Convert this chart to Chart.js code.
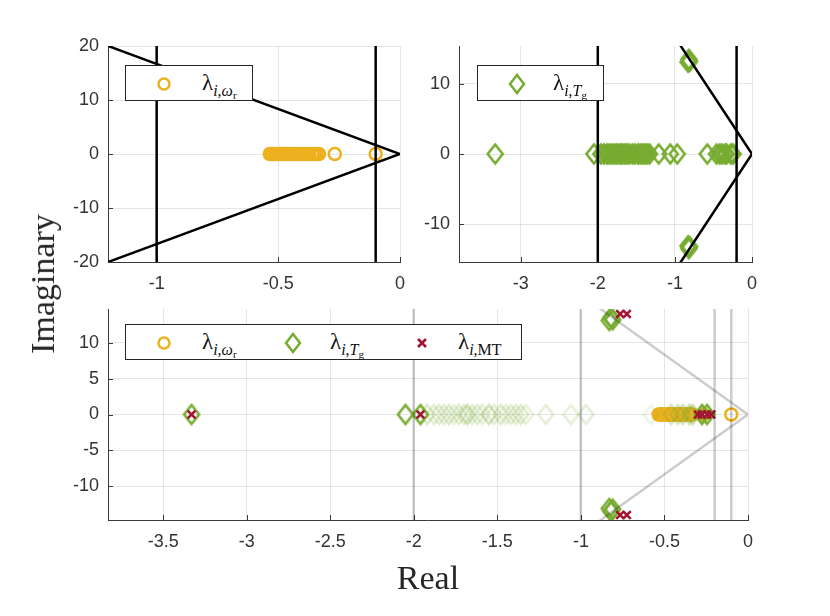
<!DOCTYPE html>
<html>
<head>
<meta charset="utf-8">
<script src="https://cdn.jsdelivr.net/npm/chart.js@4.4.1/dist/chart.umd.min.js"></script>
<style>
  html, body { margin: 0; padding: 0; background: #fff; }
  #fig { position: relative; width: 830px; height: 616px; overflow: hidden; background: #fff; }
  #fig canvas { position: absolute; }
  .lbl { position: absolute; font-family: "Liberation Serif", "DejaVu Serif", serif; color: #262626; font-size: 34px; white-space: nowrap; line-height: 1; }
  .legend { position: absolute; background: #fff; border: 1px solid #262626; box-sizing: border-box; height: 36px; }
  .legend svg { position: absolute; top: 10px; }
  .legend .t { position: absolute; top: 4px; font-family: "Liberation Serif", "DejaVu Serif", serif; font-size: 23px; color: #111; white-space: nowrap; }
  .legend sub { font-size: 16px; vertical-align: -6px; }
  .legend sub sub { font-size: 11px; vertical-align: -3px; }
</style>
</head>
<body>
<div id="fig">
  <canvas id="topLeft" width="420" height="300" style="left:0;top:0"></canvas>
  <canvas id="topRight" width="410" height="300" style="left:420px;top:0"></canvas>
  <canvas id="bottom" width="830" height="316" style="left:0;top:300px"></canvas>

  <div class="lbl" id="ylab" style="left:43px;top:284px;transform:translate(-50%,-50%) rotate(-90deg);">Imaginary</div>
  <div class="lbl" id="xlab" style="left:428px;top:578px;transform:translate(-50%,-50%);">Real</div>

  <div class="legend" style="left:125px;top:65px;width:128px;">
    <svg width="16" height="16" style="left:30px"><circle cx="8" cy="8" r="5.5" fill="none" stroke="#EDB120" stroke-width="2.5"/></svg>
    <span class="t" style="left:76px">λ<sub><i>i</i>,<i>ω</i><sub>r</sub></sub></span>
  </div>
  <div class="legend" style="left:477px;top:65px;width:127px;">
    <svg width="18" height="22" style="left:30px;top:7px"><polygon points="9,2 16,11 9,20 2,11" fill="none" stroke="#77AC30" stroke-width="2.5"/></svg>
    <span class="t" style="left:75px">λ<sub><i>i</i>,<i>T</i><sub>g</sub></sub></span>
  </div>
  <div class="legend" style="left:125px;top:324px;width:397px;">
    <svg width="16" height="16" style="left:30px"><circle cx="8" cy="8" r="5.5" fill="none" stroke="#EDB120" stroke-width="2.5"/></svg>
    <span class="t" style="left:76px">λ<sub><i>i</i>,<i>ω</i><sub>r</sub></sub></span>
    <svg width="18" height="22" style="left:158px;top:7px"><polygon points="9,2 16,11 9,20 2,11" fill="none" stroke="#77AC30" stroke-width="2.5"/></svg>
    <span class="t" style="left:204px">λ<sub><i>i</i>,<i>T</i><sub>g</sub></sub></span>
    <svg width="16" height="16" style="left:288px"><path d="M4,4 L12,12 M12,4 L4,12" stroke="#A2142F" stroke-width="2.6"/></svg>
    <span class="t" style="left:332px">λ<sub><i>i</i>,MT</sub></span>
  </div>
</div>

<script>
// eigenvalues tied to the rotor speed state
const owReal = [-0.535, -0.527, -0.521, -0.512, -0.506, -0.497, -0.489, -0.483, -0.474, -0.466, -0.459, -0.45, -0.441, -0.433, -0.426, -0.417, -0.407, -0.399, -0.391, -0.38, -0.372, -0.36, -0.351, -0.342, -0.333, -0.268, -0.1];
const owImag = [0, 0, 0, 0, 0, 0, 0, 0, 0, 0, 0, 0, 0, 0, 0, 0, 0, 0, 0, 0, 0, 0, 0, 0, 0, 0, 0];

// eigenvalues tied to the generator torque state
const tgReal = [-3.33, -2.05, -1.96, -1.92, -1.88, -1.85, -1.82, -1.79, -1.76, -1.73, -1.70, -1.68, -1.65, -1.62, -1.59, -1.55, -1.52, -1.48, -1.45, -1.42, -1.39, -1.36, -1.33, -1.21, -1.06, -0.97, -0.58, -0.46, -0.42, -0.39, -0.35, -0.33, -0.275, -0.245, -0.83, -0.81, -0.82, -0.83, -0.81, -0.82];
const tgImag = [0, 0, 0, 0, 0, 0, 0, 0, 0, 0, 0, 0, 0, 0, 0, 0, 0, 0, 0, 0, 0, 0, 0, 0, 0, 0, 0, 0, 0, 0, 0, 0, 0, 0, 13.1, 13.2, 13.5, -13.1, -13.2, -13.5];
// participation shown as opacity in the combined plot
const tgWeight = [1, 1, 1, 0.25, 0.2, 0.22, 0.2, 0.25, 0.18, 0.22, 0.2, 0.35, 0.2, 0.22, 0.18, 0.35, 0.2, 0.25, 0.18, 0.22, 0.2, 0.24, 0.18, 0.2, 0.18, 0.2, 0.12, 0.3, 0.3, 0.35, 0.4, 0.35, 1, 1, 1, 1, 1, 1, 1, 1];

// eigenvalues of the multi-turbine model
const mtReal = [-3.33, -1.96, -0.765, -0.725, -0.765, -0.725, -0.30, -0.275, -0.245, -0.22];
const mtImag = [0, 0, 14.0, 14.0, -14.0, -14.0, 0, 0, 0, 0];

// stability region bounds
const dampSlope = 16.67;            // |imag| / |real| along the damping limit
const topLeftLimits = [-1, -0.1];
const topRightLimits = [-2, -0.2];
const bottomLimits = [-2, -1, -0.2, -0.1];

// tick labels
const topLeftX = [-1, -0.5, 0];
const topLeftY = [-20, -10, 0, 10, 20];
const topRightX = [-3, -2, -1, 0];
const topRightY = [-10, 0, 10];
const bottomX = [-3.5, -3, -2.5, -2, -1.5, -1, -0.5, 0];
const bottomY = [-10, -5, 0, 5, 10];

const ORANGE = '#EDB120';
const GREEN = '#77AC30';
const RED = '#A2142F';
const GRID = 'rgba(38,38,38,0.12)';
const AXIS = '#3a3a3a';

const pts = (xs, ys) => xs.map((x, i) => ({ x: x, y: ys[i] }));

function diamond(color) {
  const c = document.createElement('canvas');
  c.width = 20; c.height = 24;
  const g = c.getContext('2d');
  g.strokeStyle = color;
  g.lineWidth = 2.6;
  g.beginPath();
  g.moveTo(10, 2.5); g.lineTo(17.5, 12); g.lineTo(10, 21.5); g.lineTo(2.5, 12);
  g.closePath();
  g.stroke();
  return c;
}

function limitLines(limits, color) {
  const sets = limits.map(v => ({
    type: 'line', data: [{ x: v, y: -100 }, { x: v, y: 100 }],
    borderColor: color, borderWidth: 2.5, pointRadius: 0, clip: 0, order: 0
  }));
  sets.push({
    type: 'line', data: [{ x: -6, y: 6 * dampSlope }, { x: 0, y: 0 }, { x: -6, y: -6 * dampSlope }],
    borderColor: color, borderWidth: 2.5, pointRadius: 0, clip: 0, order: 0
  });
  return sets;
}

function circles() {
  return {
    data: pts(owReal, owImag), pointStyle: 'circle', pointRadius: 6,
    borderColor: ORANGE, borderWidth: 2.5, backgroundColor: 'rgba(0,0,0,0)', clip: 0, order: 3
  };
}

function diamonds(weighted) {
  return {
    data: pts(tgReal, tgImag), pointRadius: 8, clip: 0, order: 2,
    pointStyle: tgWeight.map(w => diamond(weighted ? 'rgba(119,172,48,' + w + ')' : GREEN))
  };
}

function crosses() {
  return {
    data: pts(mtReal, mtImag), pointStyle: 'crossRot', pointRadius: 5.5,
    borderColor: RED, borderWidth: 2.6, clip: 0, order: 1
  };
}

function axis(min, max, vals, size, isX) {
  return {
    type: 'linear', min: min, max: max,
    afterBuildTicks: s => { s.ticks = vals.map(v => ({ value: v })); },
    afterFit: s => {
      if (isX) s.height = size; else s.width = size;
      s.paddingTop = 0; s.paddingBottom = 0; s.paddingLeft = 0; s.paddingRight = 0;
    },
    grid: { color: GRID, lineWidth: 1, drawTicks: false },
    border: { display: true, color: AXIS, width: 1 },
    ticks: {
      color: '#333', font: { family: 'Liberation Sans, Arial, sans-serif', size: 18 },
      padding: isX ? 11 : 9,
      callback: v => String(Math.round(v * 100) / 100)
    }
  };
}

// MATLAB style inward tick marks
const inTicks = {
  id: 'inTicks',
  beforeDatasetsDraw(chart) {
    const { ctx, chartArea: a, scales } = chart;
    ctx.save();
    ctx.strokeStyle = AXIS;
    ctx.lineWidth = 1;
    ctx.beginPath();
    scales.x.ticks.forEach(t => {
      const px = Math.round(scales.x.getPixelForValue(t.value)) + 0.5;
      ctx.moveTo(px, a.bottom); ctx.lineTo(px, a.bottom - 5);
    });
    scales.y.ticks.forEach(t => {
      const py = Math.round(scales.y.getPixelForValue(t.value)) + 0.5;
      ctx.moveTo(a.left, py); ctx.lineTo(a.left + 5, py);
    });
    ctx.stroke();
    ctx.restore();
  }
};

function makePlot(id, datasets, x, y, pad) {
  return new Chart(document.getElementById(id), {
    type: 'scatter',
    data: { datasets: datasets },
    options: {
      responsive: false, animation: false, devicePixelRatio: 1,
      layout: { padding: pad },
      plugins: { legend: { display: false }, tooltip: { enabled: false } },
      scales: { x: x, y: y }
    },
    plugins: [inTicks]
  });
}

makePlot('topLeft',
  [...limitLines(topLeftLimits, '#000'), circles()],
  axis(-1.2, 0, topLeftX, 38, true),
  axis(-20, 20, topLeftY, 108, false),
  { top: 46, right: 20, left: 0, bottom: 0 });

makePlot('topRight',
  [...limitLines(topRightLimits, '#000'), diamonds(false)],
  axis(-3.8, 0, topRightX, 38, true),
  axis(-15.4, 15.4, topRightY, 39, false),
  { top: 46, right: 78, left: 0, bottom: 0 });

makePlot('bottom',
  [...limitLines(bottomLimits, 'rgba(0,0,0,0.2)'), circles(), diamonds(true), crosses()],
  axis(-3.83, 0, bottomX, 96, true),
  axis(-14.7, 14.7, bottomY, 108, false),
  { top: 7, right: 82, left: 0, bottom: 0 });
</script>
</body>
</html>
